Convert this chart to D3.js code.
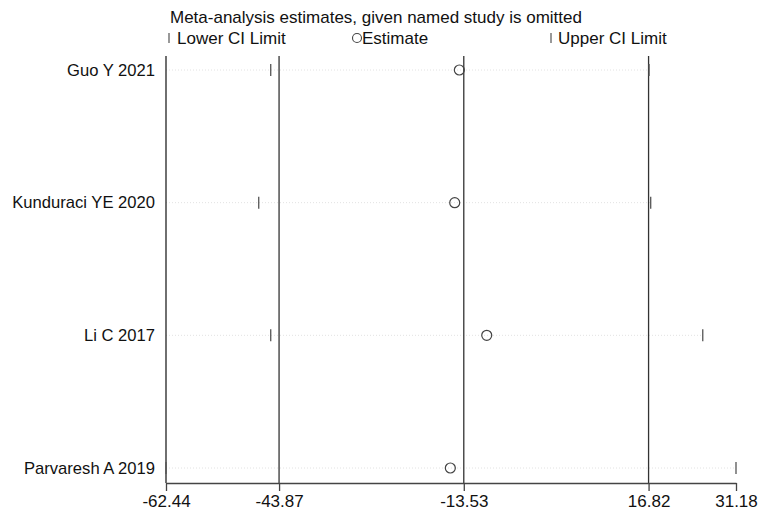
<!DOCTYPE html>
<html>
<head>
<meta charset="utf-8">
<script src="https://cdn.jsdelivr.net/npm/d3@7"></script>
<style>
  html, body { margin: 0; padding: 0; background: #fff; }
  svg { display: block; }
  text { font-family: "Liberation Sans", Arial, sans-serif; fill: #111; }
</style>
</head>
<body>
<svg id="chart" width="762" height="517"></svg>
<script>
// Leave-one-out meta-analysis: estimate and CI with each study omitted
const studies   = ["Guo Y 2021", "Kunduraci YE 2020", "Li C 2017", "Parvaresh A 2019"];
const estimates = [-14.26, -15.02, -9.76, -15.74];
const lowerCI   = [-45.24, -47.21, -45.24, -62.44];
const upperCI   = [16.90, 17.17, 25.72, 31.18];

// Pooled estimate and CI of the full analysis, plus axis extremes
const tickValues = [-62.44, -43.87, -13.53, 16.82, 31.18];
const refLines   = [-43.87, -13.53, 16.82];

const titleText = "Meta-analysis estimates, given named study is omitted";
const legendLabels = ["Lower CI Limit", "Estimate", "Upper CI Limit"];

const rows = studies.map((s, i) => ({
  study: s, est: estimates[i], lo: lowerCI[i], hi: upperCI[i]
}));

const svg = d3.select("#chart");
const fs = "17px";

const plotTop = 56, plotBottom = 483;
const x = d3.scaleLinear().domain([-62.44, 31.18]).range([166, 736]);
const y = d3.scalePoint().domain(studies).range([70, 468]);

// Faint dotted guides along each row
svg.append("g").selectAll("line")
  .data(rows).join("line")
  .attr("x1", x(-62.44)).attr("x2", d => x(d.hi))
  .attr("y1", d => y(d.study)).attr("y2", d => y(d.study))
  .attr("stroke", "#e2e2e2").attr("stroke-width", 1)
  .attr("stroke-dasharray", "1,2");

// Reference lines at the pooled estimate and its limits
svg.append("g").selectAll("line")
  .data(refLines).join("line")
  .attr("x1", d => x(d)).attr("x2", d => x(d))
  .attr("y1", plotTop).attr("y2", plotBottom)
  .attr("stroke", "#333").attr("stroke-width", 1.3);

// Left frame line
svg.append("line")
  .attr("x1", x(-62.44)).attr("x2", x(-62.44))
  .attr("y1", plotTop).attr("y2", plotBottom)
  .attr("stroke", "#222").attr("stroke-width", 1.3);

// Bottom axis
const fmt = d3.format(".2f");
const xAxis = d3.axisBottom(x)
  .tickValues(tickValues)
  .tickFormat(d => fmt(d).replace("\u2212", "-"))
  .tickSize(8)
  .tickSizeOuter(0);
const gx = svg.append("g")
  .attr("transform", `translate(0,${plotBottom})`)
  .call(xAxis);
gx.select(".domain").attr("stroke", "#444").attr("stroke-width", 1.3);
gx.selectAll(".tick line").attr("stroke", "#444").attr("stroke-width", 1.3);
gx.selectAll(".tick text")
  .attr("y", 12)
  .style("font-family", "'Liberation Sans', Arial, sans-serif")
  .style("font-size", fs)
  .attr("fill", "#111");

// Study labels
svg.append("g").selectAll("text")
  .data(rows).join("text")
  .attr("x", 155).attr("y", d => y(d.study))
  .attr("dy", "0.35em")
  .attr("text-anchor", "end")
  .style("font-size", "16.6px")
  .text(d => d.study);

// CI limit markers
const capH = 6;
svg.append("g").selectAll("line")
  .data(rows.flatMap(d => [
    { v: d.lo, s: d.study }, { v: d.hi, s: d.study }
  ])).join("line")
  .attr("x1", d => x(d.v)).attr("x2", d => x(d.v))
  .attr("y1", d => y(d.s) - capH).attr("y2", d => y(d.s) + capH)
  .attr("stroke", "#555").attr("stroke-width", 1.3);

// Estimates
svg.append("g").selectAll("circle")
  .data(rows).join("circle")
  .attr("cx", d => x(d.est)).attr("cy", d => y(d.study))
  .attr("r", 5)
  .attr("fill", "none").attr("stroke", "#444").attr("stroke-width", 1.2);

// Title
svg.append("text")
  .attr("x", 170).attr("y", 23)
  .style("font-size", fs)
  .text(titleText);

// Legend
const ly = 38;
const lg = svg.append("g");
lg.append("line").attr("x1", 169).attr("x2", 169).attr("y1", ly - 5).attr("y2", ly + 5)
  .attr("stroke", "#555").attr("stroke-width", 1.2);
lg.append("text").attr("x", 177).attr("y", ly).attr("dy", "0.35em")
  .style("font-size", fs).text(legendLabels[0]);
lg.append("circle").attr("cx", 357).attr("cy", ly).attr("r", 4.5)
  .attr("fill", "none").attr("stroke", "#444").attr("stroke-width", 1.1);
lg.append("text").attr("x", 362).attr("y", ly).attr("dy", "0.35em")
  .style("font-size", fs).text(legendLabels[1]);
lg.append("line").attr("x1", 551).attr("x2", 551).attr("y1", ly - 5).attr("y2", ly + 5)
  .attr("stroke", "#555").attr("stroke-width", 1.2);
lg.append("text").attr("x", 558).attr("y", ly).attr("dy", "0.35em")
  .style("font-size", fs).text(legendLabels[2]);
</script>
</body>
</html>
